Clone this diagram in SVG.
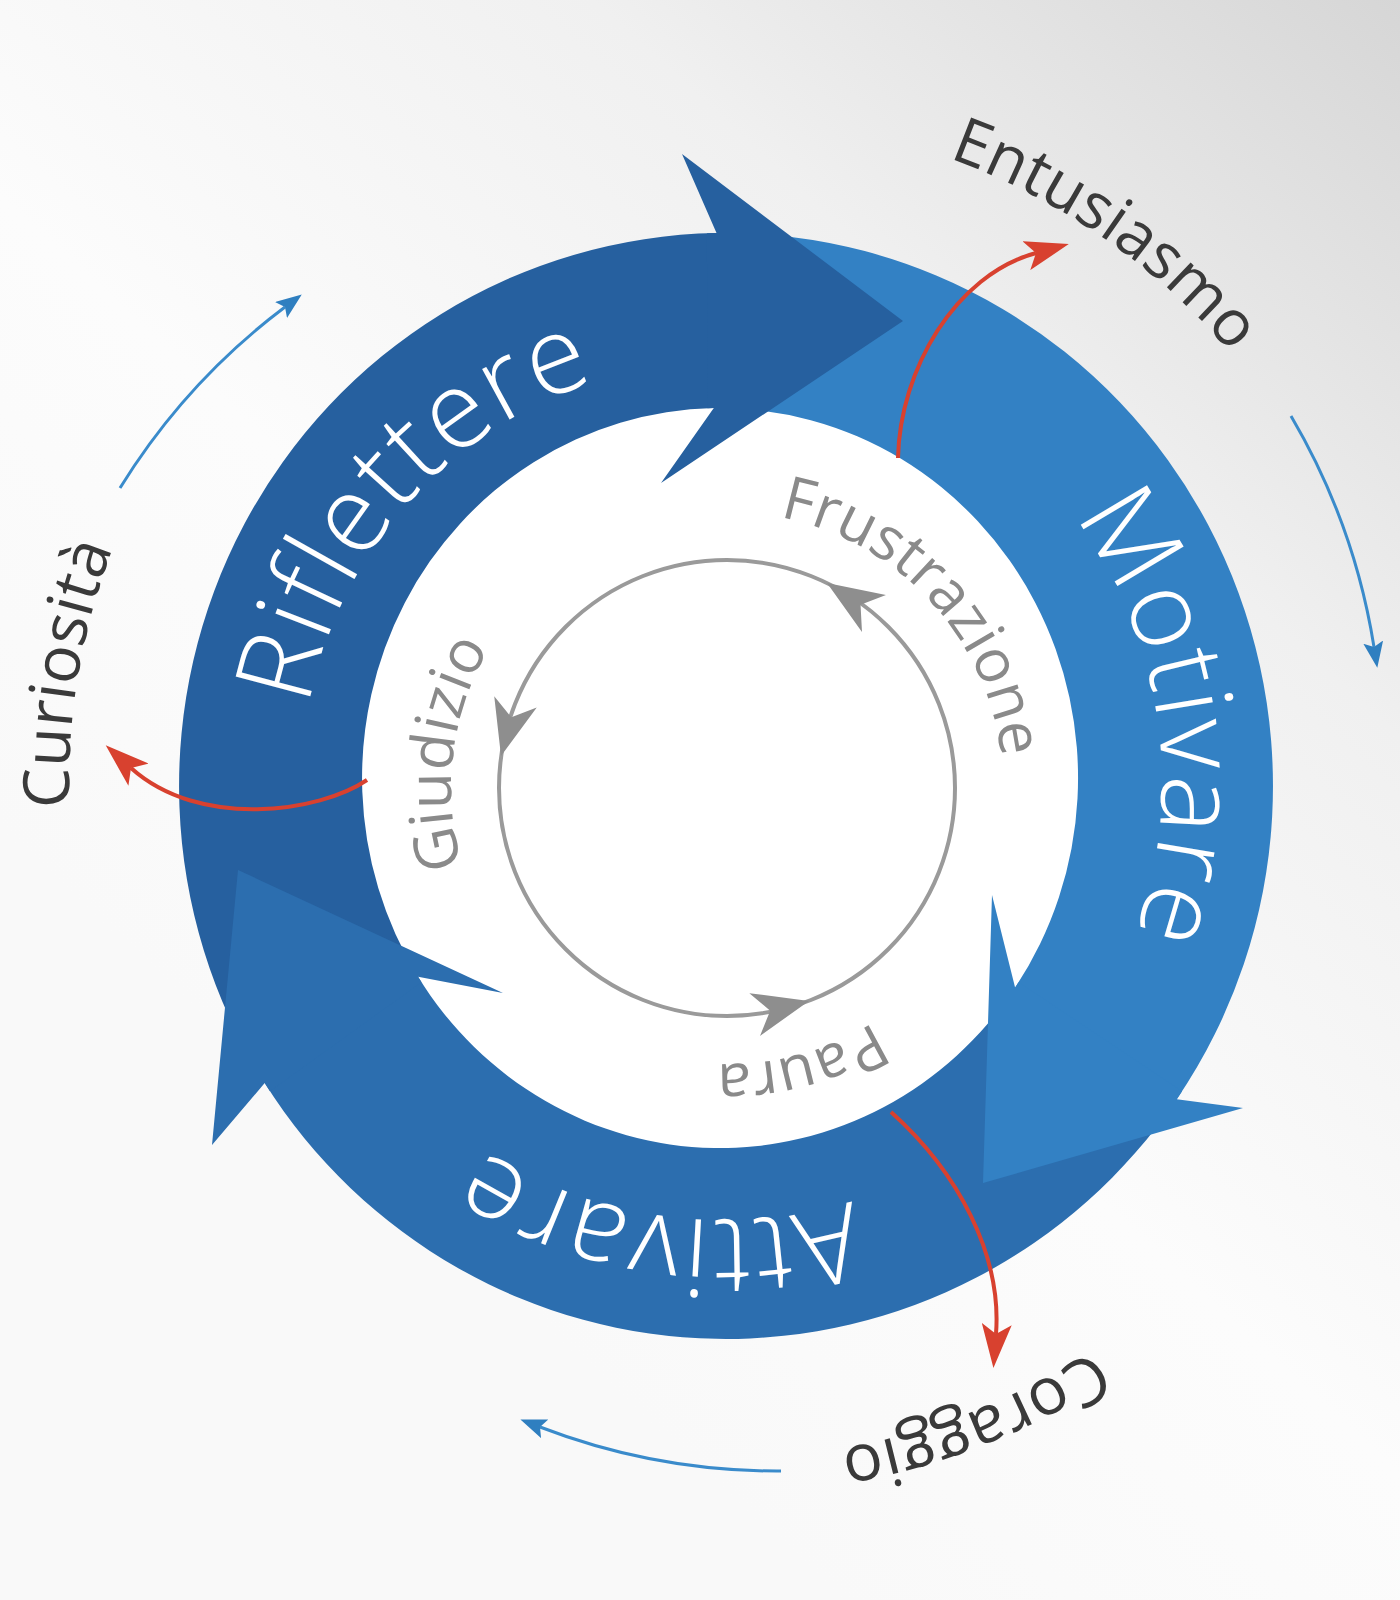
<svg xmlns="http://www.w3.org/2000/svg" width="1400" height="1600" viewBox="0 0 1400 1600">
<defs>
  <linearGradient id="bg" x1="1400" y1="0" x2="350" y2="1150" gradientUnits="userSpaceOnUse">
    <stop offset="0" stop-color="#d6d6d6"/>
    <stop offset="0.35" stop-color="#f0f0f0"/>
    <stop offset="0.7" stop-color="#fcfcfc"/>
    <stop offset="1" stop-color="#f9f9f9"/>
  </linearGradient>
  <marker id="redHead" markerUnits="userSpaceOnUse" viewBox="0 0 44 30" markerWidth="44" markerHeight="30" refX="10" refY="15" orient="auto">
    <path d="M0,0 L44,15 L0,30 L10,15 Z" fill="#d8412f"/>
  </marker>
  <marker id="blueHead" markerUnits="userSpaceOnUse" viewBox="0 0 26 20" markerWidth="26" markerHeight="20" refX="5" refY="10" orient="auto">
    <path d="M0,0 L26,10 L0,20 L5,10 Z" fill="#2f7fc0"/>
  </marker>
  <path id="tp-rif" d="M352.9,982.4 A420,420 0 0 1 875.9,391.2"/>
  <path id="tp-mot" d="M811.2,351.2 A440,440 0 0 1 930.6,1169.4"/>
  <path id="tp-att" d="M1108.7,987.6 A438,438 0 0 1 293.6,873.1"/>
  <path id="tp-fru" d="M620.5,533.4 A276,276 0 0 1 972.3,914.6"/>
  <path id="tp-giu" d="M601.7,1033.9 A276,276 0 0 1 664.9,519.1"/>
  <path id="tp-pau" d="M1002,812.1 A276,276 0 0 1 500.9,946.3"/>
  <path id="tp-ent" d="M662.6,121.9 A665,665 0 0 1 1365.5,608.5"/>
  <path id="tp-cur" d="M159.7,1116.4 A655,655 0 0 1 298.6,285.9"/>
  <path id="tp-cor" d="M1317.2,1106.1 A675,675 0 0 1 509.8,1424.1"/>
  <path id="grayHead" d="M0,0 L-56,-22 L-40,0 L-56,22 Z"/>
</defs>
<style>
  text { font-family: "Open Sans", "Noto Sans", "DejaVu Sans", sans-serif; }
  .band-text { font-size: 108px; font-weight: 300; letter-spacing: 2px; fill: #ffffff; }
  .inner-text { font-size: 60px; fill: #8a8a8a; }
  .outer-text { font-size: 64px; fill: #3a3a3a; }
  .rif { fill: #26609f; }
  .mot { fill: #3381c4; }
  .att { fill: #2c6eaf; }
  .red { fill: none; stroke: #d8412f; stroke-width: 4; marker-end: url(#redHead); }
  .blue { fill: none; stroke: #3a8bcb; stroke-width: 3; marker-end: url(#blueHead); }
  .gray-ring { fill: none; stroke: #9a9a9a; stroke-width: 4; }
  .gray-head { fill: #8e8e8e; }
</style>
<rect width="1400" height="1600" fill="url(#bg)"/>
<ellipse cx="720" cy="778" rx="362" ry="374" fill="#ffffff"/>

<!-- arrow bodies -->
<g id="bodies">
  <path class="mot" d="M716.5,233.1 A547,553 0 0 1 1176.8,1099.2 L1015.1,987.6 A358,370 0 0 0 713.8,408.1 Z"/>
  <path class="att" d="M1176.8,1099.2 A547,553 0 0 1 264.7,1083.1 L418.1,976.8 A358,370 0 0 0 1015.1,987.6 Z"/>
  <path class="rif" d="M264.7,1083.1 A547,553 0 0 1 716.5,233.1 L713.8,408.1 A358,370 0 0 0 418.1,976.8 Z"/>
</g>

<g id="riflettere">
  <path class="rif" d="M706.9,233.3 L716.5,233.1 L682,154 L903,321 L661,483 L713.8,408.1 L707.5,408.2 Z"/>
  <text class="band-text" text-anchor="middle"><textPath href="#tp-rif" startOffset="50%">Riflettere</textPath></text>
</g>
<g id="motivare">
  <path class="mot" d="M1182.1,1091.2 L1176.8,1099.2 L1243,1108 L983,1183 L992,895 L1015.1,987.6 L1018.5,982.2 Z"/>
  <text class="band-text" text-anchor="middle"><textPath href="#tp-mot" startOffset="50%">Motivare</textPath></text>
</g>
<g id="attivare">
  <path class="att" d="M269.9,1091.2 L264.7,1083.1 L212,1145 L238,870 L503,993 L418.1,976.8 L421.5,982.2 Z"/>
  <text class="band-text" text-anchor="middle"><textPath href="#tp-att" startOffset="50%">Attivare</textPath></text>
</g>

<g id="inner-cycle">
  <circle class="gray-ring" cx="727" cy="788" r="228"/>
  <use href="#grayHead" class="gray-head" transform="translate(827,583) rotate(-147)"/>
  <use href="#grayHead" class="gray-head" transform="translate(501,756) rotate(105)"/>
  <use href="#grayHead" class="gray-head" transform="translate(809,1001) rotate(-14)"/>
</g>
<g id="frustrazione"><text class="inner-text" text-anchor="middle"><textPath href="#tp-fru" startOffset="50%">Frustrazione</textPath></text></g>
<g id="giudizio"><text class="inner-text" text-anchor="middle"><textPath href="#tp-giu" startOffset="50%">Giudizio</textPath></text></g>
<g id="paura"><text class="inner-text" text-anchor="middle"><textPath href="#tp-pau" startOffset="50%">Paura</textPath></text></g>

<g id="entusiasmo"><text class="outer-text" text-anchor="middle"><textPath href="#tp-ent" startOffset="50%">Entusiasmo</textPath></text></g>
<g id="curiosita"><text class="outer-text" text-anchor="middle"><textPath href="#tp-cur" startOffset="50%">Curiosità</textPath></text></g>
<g id="coraggio"><text class="outer-text" text-anchor="middle" style="font-size:66px"><textPath href="#tp-cor" startOffset="50%">Coraggio</textPath></text></g>

<g id="connectors">
  <path class="red" d="M898,458 C900,370 955,275 1036,253"/>
  <path class="red" d="M367,780 C320,812 200,830 131,768"/>
  <path class="red" d="M891,1112 C958,1172 1002,1255 996,1334"/>
  <path class="blue" d="M120,488 A660,660 0 0 1 285,307"/>
  <path class="blue" d="M1291,416 A660,660 0 0 1 1374,647"/>
  <path class="blue" d="M781,1471 A660,660 0 0 1 540,1427"/>
</g>
</svg>
